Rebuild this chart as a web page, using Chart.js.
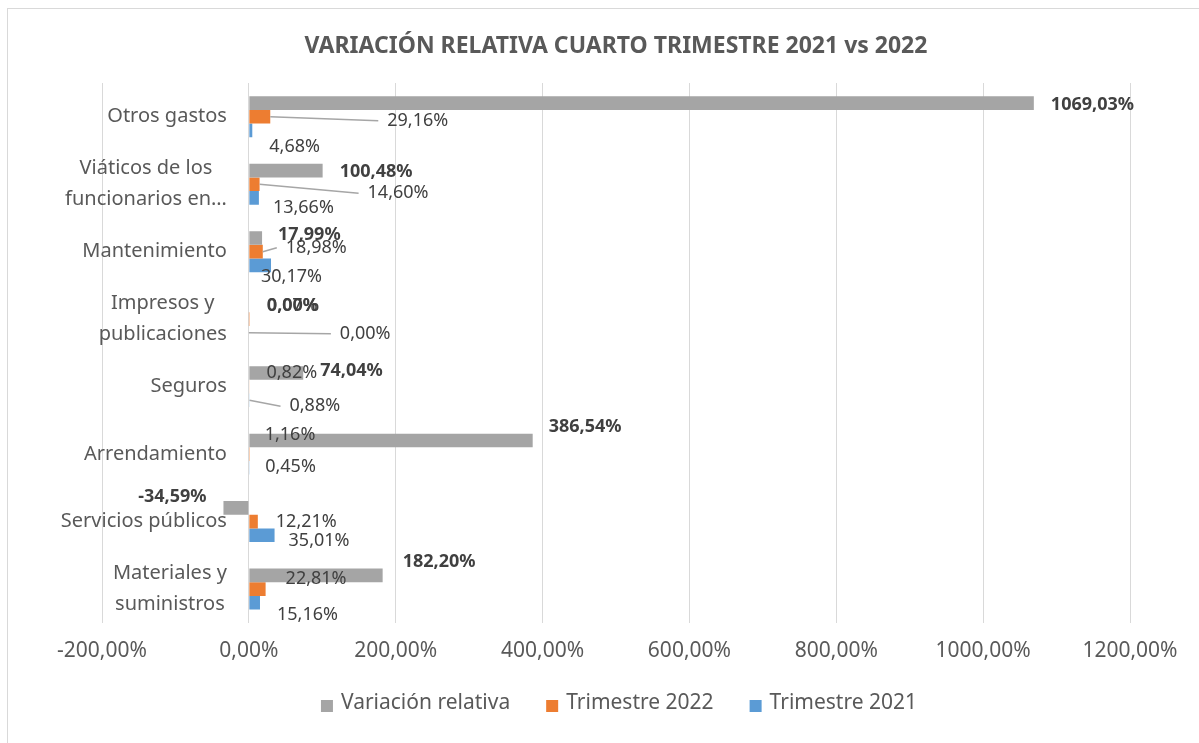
<!DOCTYPE html>
<html lang="es">
<head>
  <meta charset="UTF-8">
  <title>Variación relativa cuarto trimestre 2021 vs 2022</title>
  <style>
    body { margin: 0; background: #fff; }
    #wrap { width: 1199px; height: 743px; }
  </style>
</head>
<body>

<div id="wrap"><canvas id="chart" width="1199" height="743"></canvas></div>

<script src="https://cdn.jsdelivr.net/npm/chart.js"></script>
<script>
  // Categorías, de arriba hacia abajo (cada una en sus líneas)
  const categories = [
    ['Otros gastos'],
    ['Viáticos de los', 'funcionarios en…'],
    ['Mantenimiento'],
    ['Impresos y', 'publicaciones'],
    ['Seguros'],
    ['Arrendamiento'],
    ['Servicios públicos'],
    ['Materiales y', 'suministros']
  ];

  // Valores en %
  const variacionRelativa = [1069.03, 100.48, 17.99, 0.00, 74.04, 386.54, -34.59, 182.20];
  const trimestre2022 = [29.16, 14.60, 18.98, 0.07, 0.82, 1.16, 12.21, 22.81];
  const trimestre2021 = [4.68, 13.66, 30.17, 0.00, 0.88, 0.45, 35.01, 15.16];

  const seriesNames = ['Variación relativa', 'Trimestre 2022', 'Trimestre 2021'];
  const xTicks = [-200, 0, 200, 400, 600, 800, 1000, 1200];

  const FONT = "'Noto Sans', sans-serif";
  const TEXT = '#595959';

  // Posición de cada etiqueta respecto al extremo de su barra: [dx, dy, línea guía]
  const labelNudge = [
    [[17, 2], [17, 1], [16, -3], [18, 0], [17, -2], [16, -14], [-17, -11], [20, -14]],
    [[117, 4, 1], [108, 9, 1], [23, -4, 1], [18, -13], [17, -14], [15, -19], [18, 0], [20, -10]],
    [[17, 16], [14, 10], [-10, 12], [91, 1, 1], [40, 6, 1], [16, -1], [14, 6], [17, 12]]
  ];

  function pct(v) {
    return v.toFixed(2).replace('.', ',') + '%';
  }

  const decor = {
    id: 'decor',
    beforeDraw(chart) {
      const ctx = chart.ctx;
      ctx.save();
      ctx.fillStyle = '#fff';
      ctx.fillRect(0, 0, chart.width, chart.height);
      ctx.strokeStyle = '#d9d9d9';
      ctx.lineWidth = 1;
      ctx.strokeRect(7.5, 8.5, chart.width + 20, chart.height + 20);
      ctx.restore();
    },
    afterDatasetsDraw(chart) {
      const ctx = chart.ctx;
      const xs = chart.scales.x, ys = chart.scales.y;
      ctx.save();

      // etiquetas de categoría, junto al eje en 0
      const right = xs.getPixelForValue(0) - 22;
      ctx.font = '20px ' + FONT;
      ctx.fillStyle = TEXT;
      ctx.textBaseline = 'middle';
      ctx.textAlign = 'center';
      categories.forEach((lines, i) => {
        const yc = ys.getPixelForValue(i);
        const w = Math.max(...lines.map(l => ctx.measureText(l).width));
        lines.forEach((l, k) => {
          ctx.fillText(l, right - w / 2, yc + (k - (lines.length - 1) / 2) * 31);
        });
      });

      // etiquetas de datos
      chart.data.datasets.forEach((ds, d) => {
        const meta = chart.getDatasetMeta(d);
        ctx.font = (d === 0 ? 'bold ' : '') + '18px ' + FONT;
        meta.data.forEach((bar, i) => {
          const v = ds.data[i];
          const n = labelNudge[d][i];
          const tx = bar.x + n[0];
          const ty = bar.y + n[1];
          if (n[2]) {
            ctx.strokeStyle = '#a6a6a6';
            ctx.lineWidth = 1.5;
            ctx.beginPath();
            ctx.moveTo(bar.x, bar.y);
            ctx.lineTo(tx - 9, ty);
            ctx.stroke();
          }
          ctx.fillStyle = '#404040';
          ctx.textAlign = v < 0 ? 'right' : 'left';
          ctx.fillText(pct(v), tx, ty);
        });
      });
      ctx.restore();
    },
    afterDraw(chart) {
      const ctx = chart.ctx;
      const area = chart.chartArea;
      const cx = (area.left + area.right) / 2;
      ctx.save();

      // título
      ctx.font = 'bold 23px ' + FONT;
      ctx.fillStyle = TEXT;
      ctx.textAlign = 'center';
      ctx.textBaseline = 'middle';
      ctx.fillText('VARIACIÓN RELATIVA CUARTO TRIMESTRE 2021 vs 2022', cx, 46);

      // leyenda
      ctx.font = '21px ' + FONT;
      const items = chart.data.datasets.map(ds => ({
        text: ds.label, color: ds.backgroundColor, w: ctx.measureText(ds.label).width
      }));
      const total = items.reduce((s, it) => s + 20 + it.w, 0) + 36 * (items.length - 1);
      let x = cx + 3 - total / 2;
      const y = 703;
      ctx.textAlign = 'left';
      items.forEach(it => {
        ctx.fillStyle = it.color;
        ctx.fillRect(x, y - 3, 12, 12);
        ctx.fillStyle = TEXT;
        ctx.fillText(it.text, x + 20, y);
        x += 20 + it.w + 36;
      });
      ctx.restore();
    }
  };

  new Chart(document.getElementById('chart'), {
    type: 'bar',
    data: {
      labels: categories.map(c => c.join(' ')),
      datasets: [
        { label: seriesNames[0], data: variacionRelativa, backgroundColor: '#a5a5a5' },
        { label: seriesNames[1], data: trimestre2022, backgroundColor: '#ed7d31' },
        { label: seriesNames[2], data: trimestre2021, backgroundColor: '#5b9bd5' }
      ]
    },
    options: {
      indexAxis: 'y',
      responsive: false,
      animation: false,
      layout: { padding: { left: 102, right: 69, top: 83, bottom: 63 } },
      datasets: { bar: { categoryPercentage: 0.607, barPercentage: 1 } },
      plugins: {
        legend: { display: false },
        tooltip: { enabled: false }
      },
      scales: {
        x: {
          min: xTicks[0],
          max: xTicks[xTicks.length - 1],
          afterBuildTicks: s => { s.ticks = xTicks.map(v => ({ value: v })); },
          grid: { color: '#d9d9d9', lineWidth: 1, drawTicks: false },
          border: { display: false },
          ticks: {
            padding: 16,
            color: TEXT,
            font: { family: FONT, size: 21 },
            maxRotation: 0,
            callback: v => pct(v)
          }
        },
        y: { display: false }
      }
    },
    plugins: [decor]
  });
</script>
</body>
</html>
